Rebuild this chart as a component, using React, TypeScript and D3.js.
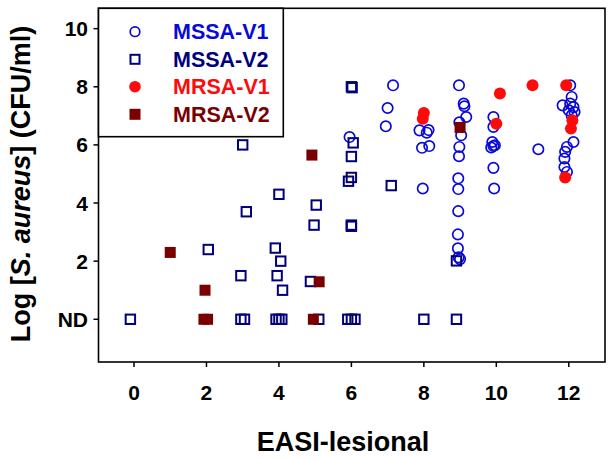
import React from "react";
import * as d3 from "d3";

const xTicks = [0, 2, 4, 6, 8, 10, 12];
const yTicks = [0, 2, 4, 6, 8, 10];
const yTickLabels = ["ND", "2", "4", "6", "8", "10"];

const seriesNames = ["MSSA-V1", "MSSA-V2", "MRSA-V1", "MRSA-V2"];
const seriesColors = ["#0a0ad8", "#00007a", "#ff0a0a", "#7a0000"];

const mssaV1: [number, number][] = [
  [5.95, 6.27],
  [7.15, 8.05], [7.0, 7.27], [6.95, 6.64],
  [7.88, 6.5], [8.13, 6.51], [8.08, 6.42], [7.95, 5.9], [8.15, 5.96], [7.97, 4.5],
  [8.97, 8.05], [9.1, 7.42], [9.12, 7.33], [9.17, 6.96], [8.98, 6.78], [9.03, 6.33],
  [8.98, 5.93], [8.97, 5.61], [8.95, 4.85], [8.95, 4.48], [8.95, 3.72],
  [8.94, 2.92], [8.94, 2.44], [8.96, 2.13], [9.0, 2.07],
  [9.92, 6.96], [9.92, 6.62], [9.89, 6.1], [9.92, 5.96], [9.96, 5.99], [9.86, 5.91],
  [9.92, 5.21], [9.94, 4.5],
  [11.16, 5.85],
  [12.04, 8.05], [12.08, 7.65], [11.83, 7.36], [12.04, 7.42], [12.13, 7.3], [12.0, 7.19],
  [12.16, 7.13], [12.08, 7.02], [12.13, 6.1], [11.95, 5.93], [11.9, 5.76], [11.88, 5.53],
  [11.88, 5.24], [11.95, 5.07],
];

const mssaV2: [number, number][] = [
  [-0.1, 0], [2.05, 2.4], [2.95, 1.5], [2.95, 0], [3.05, 0], [3.0, 6.0], [3.1, 3.7],
  [3.9, 2.45], [4.05, 2.0], [3.95, 1.5], [4.1, 1.0], [4.0, 4.3], [3.92, 0], [4.0, 0], [4.08, 0],
  [4.87, 1.3], [4.97, 3.24], [5.03, 3.93], [5.1, 0], [5.9, 0], [6.0, 0], [6.1, 0],
  [6.0, 3.24], [6.0, 3.2], [5.92, 4.75], [6.0, 4.88], [6.0, 5.6], [6.05, 6.07],
  [6.0, 8.0], [6.02, 7.97], [7.1, 4.6], [8.0, 0], [8.9, 2.01], [8.9, 0],
];

const mrsaV1: [number, number][] = [
  [8.0, 7.1], [7.97, 6.9], [10.1, 7.77], [11.0, 8.05], [10.0, 6.73],
  [11.93, 8.05], [12.1, 6.85], [12.06, 6.56], [11.9, 4.88],
];

const mrsaV2: [number, number][] = [
  [1.0, 2.3], [1.96, 1.0], [1.93, 0], [2.03, 0], [4.91, 5.65], [5.11, 1.29], [4.95, 0], [9.0, 6.6],
];

const W = 614;
const H = 459;
const left = 98.5;
const right = 605;
const top = 8.3;
const bottom = 362;

export default function App() {
  const x = d3.scaleLinear().domain([-0.98, 13]).range([left, right]);
  const y = d3.scaleLinear().domain([-1.47, 10.7]).range([bottom, top]);
  const font = "'Liberation Sans', Arial, sans-serif";

  const circle = (d: [number, number], i: number, color: string, filled: boolean, r: number) => (
    <circle
      key={i}
      cx={x(d[0])}
      cy={y(d[1])}
      r={r}
      fill={filled ? color : "none"}
      stroke={color}
      strokeWidth={filled ? 0 : 1.7}
    />
  );
  const square = (d: [number, number], i: number, color: string, filled: boolean) => {
    const s = filled ? 11 : 9.4;
    return (
      <rect
        key={i}
        x={x(d[0]) - s / 2}
        y={y(d[1]) - s / 2}
        width={s}
        height={s}
        fill={filled ? color : "none"}
        stroke={color}
        strokeWidth={filled ? 0 : 2}
      />
    );
  };

  const legendRows = [31.7, 59.3, 86.7, 114.3];

  return (
    <svg
      width={W}
      height={H}
      style={{ position: "absolute", left: 0, top: 0, background: "#fff" }}
      fontFamily={font}
      fontWeight="bold"
    >
      <rect x={0} y={0} width={W} height={H} fill="#fff" />
      {/* points */}
      <g>{mssaV1.map((d, i) => circle(d, i, seriesColors[0], false, 5.2))}</g>
      <g>{mssaV2.map((d, i) => square(d, i, seriesColors[1], false))}</g>
      <g>{mrsaV1.map((d, i) => circle(d, i, seriesColors[2], true, 6))}</g>
      <g>{mrsaV2.map((d, i) => square(d, i, seriesColors[3], true))}</g>

      {/* frame */}
      <rect x={left} y={top} width={right - left} height={bottom - top} fill="none" stroke="#000" strokeWidth={1.6} />

      {/* x axis ticks */}
      {xTicks.map((t) => (
        <g key={t}>
          <line x1={x(t)} x2={x(t)} y1={bottom} y2={bottom + 5} stroke="#000" strokeWidth={1.5} />
          <text x={x(t)} y={400} textAnchor="middle" fontSize={21} fill="#000">
            {t}
          </text>
        </g>
      ))}
      {/* y axis ticks */}
      {yTicks.map((t, i) => (
        <g key={t}>
          <line x1={left - 5} x2={left} y1={y(t)} y2={y(t)} stroke="#000" strokeWidth={1.5} />
          <text x={88} y={y(t)} dy="0.36em" textAnchor="end" fontSize={21} fill="#000">
            {yTickLabels[i]}
          </text>
        </g>
      ))}

      {/* axis titles */}
      <text x={343} y={450.5} textAnchor="middle" fontSize={27} fill="#000">
        EASI-lesional
      </text>
      <text transform="translate(30,184) rotate(-90)" textAnchor="middle" fontSize={27} fill="#000">
        Log [<tspan fontStyle="italic">S. aureus</tspan>] (CFU/ml)
      </text>

      {/* legend */}
      <rect x={left} y={top} width={283.3 - left} height={136.7 - top} fill="#fff" stroke="#000" strokeWidth={1.6} />
      {seriesNames.map((name, i) => (
        <g key={name}>
          {i === 0 && <circle cx={135} cy={legendRows[i]} r={4.8} fill="none" stroke={seriesColors[0]} strokeWidth={1.7} />}
          {i === 1 && <rect x={130.5} y={legendRows[i] - 4.5} width={9} height={9} fill="none" stroke={seriesColors[1]} strokeWidth={2} />}
          {i === 2 && <circle cx={135} cy={legendRows[i]} r={5.8} fill={seriesColors[2]} />}
          {i === 3 && <rect x={129.5} y={legendRows[i] - 5.5} width={11} height={11} fill={seriesColors[3]} />}
          <text x={173} y={legendRows[i]} dy="0.36em" fontSize={21.5} fill={seriesColors[i]}>
            {name}
          </text>
        </g>
      ))}
    </svg>
  );
}
